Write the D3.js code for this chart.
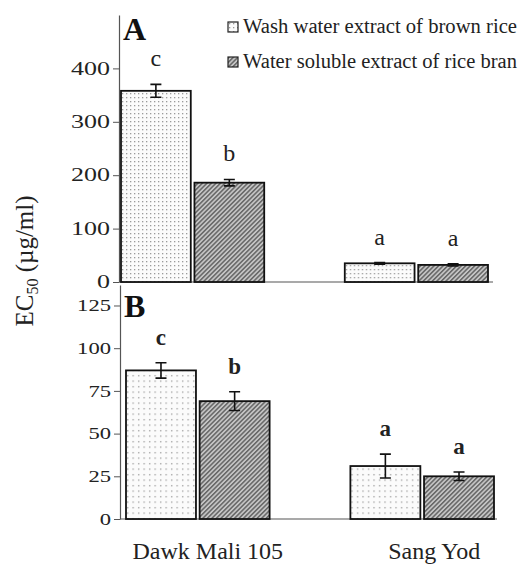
<!DOCTYPE html>
<html>
<head>
<meta charset="utf-8">
<script src="https://cdn.jsdelivr.net/npm/d3@7"></script>
<style>
  body { margin: 0; background: #fff; }
  svg text { font-family: "Times New Roman", "Liberation Serif", Times, serif; fill: #222; }
</style>
</head>
<body>
<svg id="chart" width="518" height="565"></svg>
<script>
// data
var cultivars = ["Dawk Mali 105", "Sang Yod"];
var series = ["Wash water extract of brown rice", "Water soluble extract of rice bran"];

// panel A
var meanA = [[358, 186], [35, 32]];
var errA = [[12, 6], [1.5, 2]];
var letterA = [["c", "b"], ["a", "a"]];
var ticksA = [0, 100, 200, 300, 400];

// panel B
var meanB = [[87, 69], [31, 25]];
var errB = [[4.5, 5.5], [7, 2.5]];
var letterB = [["c", "b"], ["a", "a"]];
var ticksB = [0, 25, 50, 75, 100, 125];

var svg = d3.select("#chart");

// fill patterns: dots for wash water, hatching for bran
var defs = svg.append("defs");
function dotPattern(id, s) {
  var p = defs.append("pattern").attr("id", id)
    .attr("width", s).attr("height", s).attr("patternUnits", "userSpaceOnUse");
  p.append("rect").attr("width", s).attr("height", s).attr("fill", "#fbfbfb");
  p.append("rect").attr("x", 1).attr("y", 1).attr("width", 1.3).attr("height", 1.3).attr("fill", "#9a9a9a");
}
dotPattern("dotsA", 4);
dotPattern("dotsB", 5.5);
var hp = defs.append("pattern").attr("id", "hatch")
  .attr("width", 3.2).attr("height", 3.2).attr("patternUnits", "userSpaceOnUse")
  .attr("patternTransform", "rotate(45)");
hp.append("rect").attr("width", 3.2).attr("height", 3.2).attr("fill", "#c4c4c4");
hp.append("rect").attr("width", 1.5).attr("height", 3.2).attr("fill", "#666");

function panel(opts) {
  var y = d3.scaleLinear().domain(opts.domain).range([opts.bottom, opts.top]);
  var x0 = d3.scaleBand().domain(cultivars).range(opts.xr).paddingInner(0.36);
  var x1 = d3.scaleBand().domain(series).range([0, x0.bandwidth()]).paddingInner(0.05);

  var g = svg.append("g");

  // y axis
  var ax = g.append("g").attr("transform", "translate(" + opts.axisX + ",0)")
    .call(d3.axisLeft(y).tickValues(opts.ticks).tickSize(6).tickSizeOuter(0).tickPadding(3));
  ax.attr("font-family", null);
  ax.select(".domain").attr("stroke", "#555").attr("stroke-width", 1.2);
  ax.selectAll(".tick line").attr("stroke", "#555");
  ax.selectAll(".tick text")
    .style("font-size", opts.tickFont + "px")
    .attr("textLength", function(d) { return String(d).length * opts.digitW; })
    .attr("lengthAdjust", "spacingAndGlyphs");

  // baseline
  g.append("line")
    .attr("x1", opts.axisX).attr("x2", opts.baseEnd)
    .attr("y1", y(0)).attr("y2", y(0))
    .attr("stroke", "#555").attr("stroke-width", 1.2);

  var rows = [];
  cultivars.forEach(function(c, i) {
    series.forEach(function(s, j) {
      rows.push({ c: c, s: s, j: j, v: opts.mean[i][j], e: opts.err[i][j], l: opts.letters[i][j] });
    });
  });

  var bars = g.selectAll(".bar").data(rows).enter().append("g")
    .attr("transform", function(d) { return "translate(" + (x0(d.c) + x1(d.s)) + ",0)"; });

  bars.append("rect")
    .attr("y", function(d) { return y(d.v); })
    .attr("width", x1.bandwidth())
    .attr("height", function(d) { return y(0) - y(d.v); })
    .attr("fill", function(d) { return d.j === 0 ? "url(#" + opts.dots + ")" : "url(#hatch)"; })
    .attr("stroke", "#111").attr("stroke-width", 1.8);

  var cx = x1.bandwidth() / 2;
  bars.append("path")
    .attr("d", function(d) {
      var t = y(d.v + d.e), b = y(d.v - d.e);
      return "M" + (cx - 5.5) + "," + t + "H" + (cx + 5.5) +
        "M" + cx + "," + t + "V" + b +
        "M" + (cx - 5.5) + "," + b + "H" + (cx + 5.5);
    })
    .attr("stroke", "#111").attr("stroke-width", 1.6).attr("fill", "none");

  bars.append("text")
    .attr("x", cx)
    .attr("y", function(d) { return y(d.v + d.e) - 18; })
    .attr("text-anchor", "middle")
    .style("font-size", opts.letterFont + "px")
    .style("font-weight", opts.letterWeight)
    .text(function(d) { return d.l; });

  g.append("text")
    .attr("x", opts.axisX + 4).attr("y", opts.titleY)
    .style("font-size", "32px").style("font-weight", "bold").style("fill", "#111")
    .text(opts.title);

  return x0;
}

var xA = panel({
  domain: [0, 500], bottom: 282, top: 15, xr: [121, 488], axisX: 119, baseEnd: 493,
  ticks: ticksA, mean: meanA, err: errA, letters: letterA,
  tickFont: 18, digitW: 13, letterFont: 24, letterWeight: "normal",
  dots: "dotsA", title: "A", titleY: 40
});

var xB = panel({
  domain: [0, 137], bottom: 519, top: 285, xr: [126, 494], axisX: 120, baseEnd: 497,
  ticks: ticksB, mean: meanB, err: errB, letters: letterB,
  tickFont: 16, digitW: 11.3, letterFont: 23, letterWeight: "bold",
  dots: "dotsB", title: "B", titleY: 317
});

// category labels
svg.selectAll(".cat").data(cultivars).enter().append("text")
  .attr("x", function(d) { return xB(d) + xB.bandwidth() / 2 + (d === cultivars[0] ? 10 : 12); })
  .attr("y", 559)
  .attr("text-anchor", "middle")
  .style("font-size", "24px")
  .text(function(d) { return d; });

// y label
var yl = svg.append("text")
  .attr("transform", "translate(33,261) rotate(-90)")
  .attr("text-anchor", "middle")
  .style("font-size", "25px");
yl.append("tspan").text("EC");
yl.append("tspan").attr("dy", 5).style("font-size", "16px").text("50");
yl.append("tspan").attr("dy", -5).text(" (\u00b5g/ml)");

// legend
var leg = svg.append("g").selectAll("g").data(series).enter().append("g")
  .attr("transform", function(d, i) { return "translate(228," + (22 + i * 35) + ")"; });
leg.append("rect")
  .attr("width", 10).attr("height", 10)
  .attr("fill", function(d, i) { return i === 0 ? "url(#dotsA)" : "url(#hatch)"; })
  .attr("stroke", "#222").attr("stroke-width", 1.2);
leg.append("text")
  .attr("x", 15).attr("y", 11)
  .style("font-size", "20px")
  .attr("textLength", 274).attr("lengthAdjust", "spacingAndGlyphs")
  .text(function(d) { return d; });
</script>
</body>
</html>
